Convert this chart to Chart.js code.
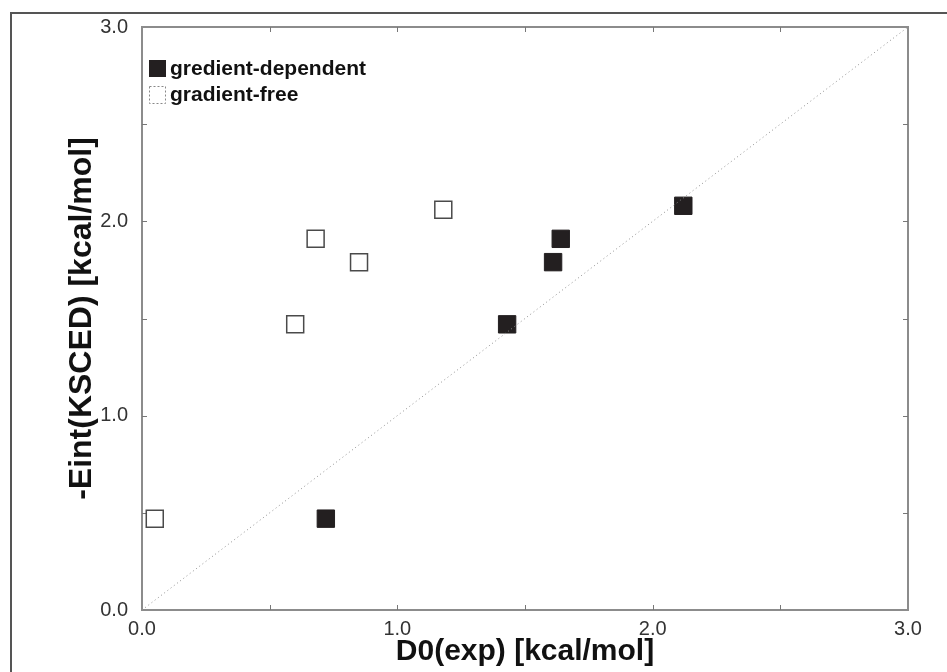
<!DOCTYPE html>
<html>
<head>
<meta charset="utf-8">
<script src="https://cdn.jsdelivr.net/npm/chart.js@4.4.0/dist/chart.umd.min.js"></script>
<style>
    html, body { margin: 0; padding: 0; background: #fff; }
    #wrap { width: 947px; height: 672px; }
</style>
</head>
<body>
<div id="wrap"><canvas id="c" width="947" height="672"></canvas></div>
<script>
const seriesNames = ['gredient-dependent', 'gradient-free'];

const depX = [0.72, 1.43, 1.61, 1.64, 2.12];
const depY = [0.47, 1.47, 1.79, 1.91, 2.08];

const freeX = [0.05, 0.60, 0.68, 0.85, 1.18];
const freeY = [0.47, 1.47, 1.91, 1.79, 2.06];

const diagX = [0, 3];
const diagY = [0, 3];

const axisMin = 0;
const axisMax = 3;
const minorTicks = [0.5, 1, 1.5, 2, 2.5];

const xTitle = 'D0(exp) [kcal/mol]';
const yTitle = '-Eint(KSCED) [kcal/mol]';

const FONT = '"Liberation Sans", Arial, Helvetica, sans-serif';
const DARK = '#231f20';
const FRAME = '#8c8c8c';

function pts(xs, ys) {
    return xs.map((x, i) => ({ x, y: ys[i] }));
}

// frame, inward ticks and the little legend in the corner
const decorations = {
    id: 'decorations',
    beforeDatasetsDraw(chart) {
        const { ctx, chartArea: a } = chart;
        const xs = chart.scales.x;
        const ys = chart.scales.y;
        ctx.save();
        // outer figure frame (only top/left visible)
        ctx.strokeStyle = '#555';
        ctx.lineWidth = 2;
        ctx.beginPath();
        ctx.moveTo(11, 700);
        ctx.lineTo(11, 13);
        ctx.lineTo(960, 13);
        ctx.stroke();

        // plot border
        ctx.strokeStyle = FRAME;
        ctx.lineWidth = 2;
        ctx.strokeRect(a.left, a.top, a.right - a.left, a.bottom - a.top);

        // inward ticks
        ctx.lineWidth = 1;
        ctx.strokeStyle = '#777';
        ctx.beginPath();
        minorTicks.forEach((v) => {
            const px = Math.round(xs.getPixelForValue(v)) + 0.5;
            ctx.moveTo(px, a.bottom);
            ctx.lineTo(px, a.bottom - 5);
            ctx.moveTo(px, a.top);
            ctx.lineTo(px, a.top + 5);
            const py = Math.round(ys.getPixelForValue(v)) + 0.5;
            ctx.moveTo(a.left, py);
            ctx.lineTo(a.left + 5, py);
            ctx.moveTo(a.right, py);
            ctx.lineTo(a.right - 5, py);
        });
        ctx.stroke();
        ctx.restore();
    },
    afterDraw(chart) {
        const { ctx } = chart;
        ctx.save();
        ctx.fillStyle = DARK;
        ctx.fillRect(149, 60, 17, 17);
        ctx.strokeStyle = '#888';
        ctx.lineWidth = 1;
        ctx.setLineDash([2, 2]);
        ctx.strokeRect(149.5, 86.5, 16, 17);
        ctx.setLineDash([]);
        ctx.fillStyle = '#111';
        ctx.font = 'bold 21px ' + FONT;
        ctx.textBaseline = 'middle';
        ctx.fillText(seriesNames[0], 170, 69);
        ctx.fillText(seriesNames[1], 170, 95);
        ctx.restore();
    },
};

const tickStyle = {
    color: '#333',
    font: { family: FONT, size: 20 },
    stepSize: 1,
    callback: (v) => Number(v).toFixed(1),
};

new Chart(document.getElementById('c'), {
    type: 'scatter',
    data: {
        datasets: [
            {
                label: 'diagonal',
                data: pts(diagX, diagY),
                showLine: true,
                borderColor: '#8f8f8f',
                borderWidth: 1,
                borderDash: [1, 3],
                pointRadius: 0,
            },
            {
                label: seriesNames[0],
                data: pts(depX, depY),
                pointStyle: 'rect',
                pointRadius: 12.3,
                backgroundColor: DARK,
                borderColor: DARK,
                borderWidth: 1,
            },
            {
                label: seriesNames[1],
                data: pts(freeX, freeY),
                pointStyle: 'rect',
                pointRadius: 12,
                backgroundColor: '#fff',
                borderColor: '#4a4a4a',
                borderWidth: 1.5,
            },
        ],
    },
    options: {
        responsive: false,
        animation: false,
        layout: { padding: { left: 0, top: 27, right: 39, bottom: 0 } },
        plugins: { legend: { display: false }, tooltip: { enabled: false } },
        scales: {
            x: {
                type: 'linear',
                min: axisMin,
                max: axisMax,
                grid: { display: false, drawTicks: false },
                border: { display: false },
                ticks: { ...tickStyle, padding: 7 },
                title: {
                    display: true,
                    text: xTitle,
                    color: '#111',
                    font: { family: FONT, size: 30, weight: 'bold' },
                    padding: { top: 0, bottom: 2 },
                },
                afterFit: (s) => { s.height = 62; },
            },
            y: {
                type: 'linear',
                min: axisMin,
                max: axisMax,
                grid: { display: false, drawTicks: false },
                border: { display: false },
                ticks: { ...tickStyle, padding: 14 },
                title: {
                    display: true,
                    text: yTitle,
                    color: '#111',
                    font: { family: FONT, size: 32, weight: 'bold' },
                    padding: { top: 63, bottom: 0 },
                },
                afterFit: (s) => { s.width = 142; },
            },
        },
    },
    plugins: [decorations],
});
</script>
</body>
</html>
